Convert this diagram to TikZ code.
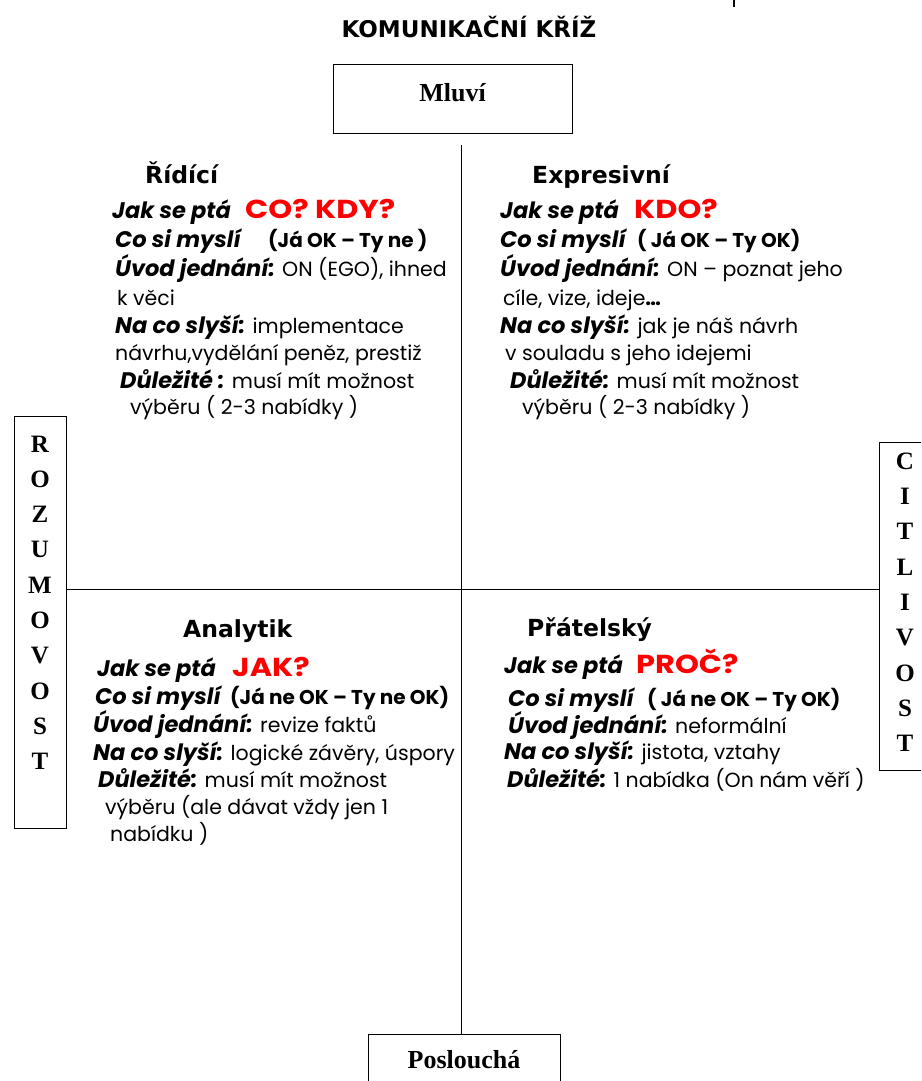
\documentclass[tikz,border=0pt]{standalone}
\usepackage{fontspec}
\usetikzlibrary{positioning}
\setmainfont{Poppins}
\newfontfamily\titlefont{DejaVu Sans}
\newfontfamily\seriffont{Liberation Serif}
\newcommand\bodyfont{\fontsize{20.5}{24}\selectfont}
\newcommand\lbl[1]{{\fontsize{22.5}{24}\selectfont\textbf{\textit{#1}}}}
\newcommand\nazor[1]{{\fontsize{20}{24}\selectfont\textbf{#1}}}
\newcommand\otazka[1]{\scalebox{1.17}[1]{\bfseries\fontsize{26}{26}\selectfont\textcolor{red}{#1}}}

\begin{document}
\begin{tikzpicture}[x=1pt,y=-1pt,
  box/.style={draw,line width=1pt,inner sep=0pt},
  radek/.style={anchor=base west,inner sep=0pt,font=\bodyfont},
  nadpis/.style={anchor=base west,inner sep=0pt,font=\titlefont\bfseries\fontsize{23.5}{24}\selectfont},
  pismena/.style={align=center,inner sep=0pt,font=\seriffont\bfseries\fontsize{25}{35.3}\selectfont}]
\clip (0,0) rectangle (921,1081);
\draw[line width=1.3pt] (734,0) -- (734,7);

% title and the two boxes on the axis
\node[inner sep=0pt] (nazev) at (469,27) {\titlefont\bfseries\fontsize{23}{23}\selectfont KOMUNIKAČNÍ KŘÍŽ};
\node[box,minimum width=239pt,minimum height=68pt,text depth=14pt,font=\seriffont\bfseries\fontsize{26}{26}\selectfont] (mluvi) at (452.5,99) {Mluví};
\node[box,minimum width=192pt,minimum height=60pt,text depth=10pt,font=\seriffont\bfseries\fontsize{26}{26}\selectfont] (posloucha) at (464,1064) {Poslouchá};
\node[box,minimum width=52pt,minimum height=412pt] (rozum) at (40,622) {};
\node[pismena,below=20pt of rozum.north] (rozumtxt) {R\\O\\Z\\U\\M\\O\\V\\O\\S\\T};
\node[box,minimum width=52pt,minimum height=328pt] (citl) at (905,606) {};
\node[pismena,below=11pt of citl.north] (citltxt) {C\\I\\T\\L\\I\\V\\O\\S\\T};

% cross
\coordinate (horni) at (461,145);
\coordinate (stred) at (461,589);
\draw[line width=1pt] (horni) -- (horni |- posloucha.north);
\draw[line width=1pt] (rozum.east |- stred) -- (citl.west |- stred);

% Ridici
\node[nadpis] (ridici) at (145,183) {Řídící};
\node[radek] (r1) at (112,218) {\lbl{Jak se ptá}};
\node[radek] (r1q) at (245,218) {\otazka{CO? KDY?}};
\node[radek] (r2) at (115,247) {\lbl{Co si myslí}};
\node[radek] (r2b) at (268,247) {\nazor{(Já OK – Ty ne )}};
\node[radek] (r3) at (115,276) {\lbl{Úvod jednání:} ON (EGO), ihned};
\node[radek] (r4) at (117,305) {k věci};
\node[radek] (r5) at (115,333) {\lbl{Na co slyší:} implementace};
\node[radek] (r6) at (115,360) {návrhu,vydělání peněz, prestiž};
\node[radek] (r7) at (120,388) {\lbl{Důležité :} musí mít možnost};
\node[radek] (r8) at (130,414) {výběru ( 2-3 nabídky )};

% Expresivni
\node[nadpis] (expres) at (532,183) {Expresivní};
\node[radek] (e1) at (500,218) {\lbl{Jak se ptá}};
\node[radek] (e1q) at (634,218) {\otazka{KDO?}};
\node[radek] (e2) at (500,247) {\lbl{Co si myslí}};
\node[radek] (e2b) at (637,247) {\nazor{( Já OK – Ty OK)}};
\node[radek] (e3) at (500,276) {\lbl{Úvod jednání:} ON – poznat jeho};
\node[radek] (e4) at (503,305) {cíle, vize, ideje\textbf{…}};
\node[radek] (e5) at (500,333) {\lbl{Na co slyší:} jak je náš návrh};
\node[radek] (e6) at (505,360) {v souladu s jeho idejemi};
\node[radek] (e7) at (510,388) {\lbl{Důležité:} musí mít možnost};
\node[radek] (e8) at (522,414) {výběru ( 2-3 nabídky )};

% Analytik
\node[nadpis] (analytik) at (183,637) {Analytik};
\node[radek] (a1) at (97,676) {\lbl{Jak se ptá}};
\node[radek] (a1q) at (232,676) {\otazka{JAK?}};
\node[radek] (a2) at (95,704) {\lbl{Co si myslí}};
\node[radek] (a2b) at (230,704) {\nazor{(Já ne OK – Ty ne OK)}};
\node[radek] (a3) at (93,732) {\lbl{Úvod jednání:} revize faktů};
\node[radek] (a4) at (93,760) {\lbl{Na co slyší:} logické závěry, úspory};
\node[radek] (a5) at (98,787) {\lbl{Důležité:} musí mít možnost};
\node[radek] (a6) at (105,814) {výběru (ale dávat vždy jen 1};
\node[radek] (a7) at (110,841) {nabídku )};

% Pratelsky
\node[nadpis] (pratel) at (527,636) {Přátelský};
\node[radek] (p1) at (504,673) {\lbl{Jak se ptá}};
\node[radek] (p1q) at (636,673) {\otazka{PROČ?}};
\node[radek] (p2) at (508,706) {\lbl{Co si myslí}};
\node[radek] (p2b) at (647,706) {\nazor{( Já ne OK – Ty OK)}};
\node[radek] (p3) at (508,733) {\lbl{Úvod jednání:} neformální};
\node[radek] (p4) at (504,759) {\lbl{Na co slyší:} jistota, vztahy};
\node[radek] (p5) at (507,787) {\lbl{Důležité:} 1 nabídka (On nám věří )};
\end{tikzpicture}
\end{document}
